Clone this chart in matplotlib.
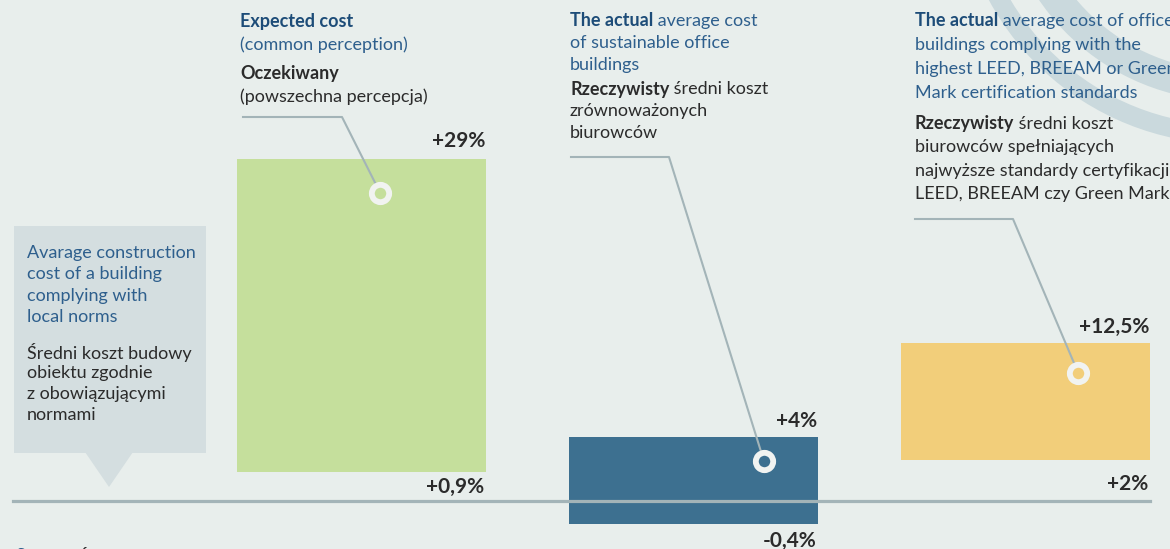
import numpy as np
import matplotlib
matplotlib.use("Agg")
import matplotlib.pyplot as plt
from matplotlib.patches import Rectangle, Polygon, Wedge
from matplotlib.transforms import IdentityTransform

plt.rcParams['font.family'] = ['Lato', 'DejaVu Sans']

# --- data ---
categories = ['Expected cost', 'Actual cost (sustainable)', 'Actual cost (top certified)']
cost_low = [0.9, -0.4, 2.0]
cost_high = [29.0, 4.0, 12.5]
low_labels = ['+0,9%', '-0,4%', '+2%']
high_labels = ['+29%', '+4%', '+12,5%']

# --- style ---
W, H = 1170, 549
BG = '#e8eeec'
BAR_COLORS = ['#c5df9c', '#3d7090', '#f2ce7a']
BLUE_B = '#1d4c78'
BLUE = '#2e5f8d'
DARK = '#2b2b2b'
LINE = '#a3b4b8'
FS = 13

tr = IdentityTransform()


def d(x, y):
    # pixel position measured from the top-left corner -> display coords
    return (x, H - y)


# exaggerated scale so the small values stay visible (schematic chart)
def fwd(v):
    v = np.asarray(v, dtype=float)
    return v + 1.704 * np.tanh(v / 0.15)


_grid = np.linspace(-60, 120, 20001)


def inv(u):
    return np.interp(u, fwd(_grid), _grid)


fig = plt.figure(figsize=(W / 100, H / 100), dpi=100)
fig.patch.set_facecolor(BG)
ax = fig.add_axes([0, 0, 1, 1])
ax.set_facecolor(BG)
ax.set_yscale('function', functions=(fwd, inv))
px_per_unit = 11.15
ax.set_ylim(inv(-48 / px_per_unit), inv(501 / px_per_unit))
ax.set_xlim(-1.089, 2.435)
ax.axis('off')

# watermark arcs top right
for r, w, a1, a2 in [(274, 19, 195, 280), (231, 30, 200, 285)]:
    ax.add_patch(Wedge((1230, H + 130), r, a1, a2, width=w, transform=tr,
                       facecolor='#cad9dd', edgecolor='none', zorder=0.5))

# bars
x = np.arange(len(categories))
heights = np.array(cost_high) - np.array(cost_low)
ax.bar(x, heights, bottom=cost_low, width=0.75, color=BAR_COLORS, zorder=2)
ax.axhline(0, xmin=13 / W, xmax=1150 / W, color=LINE, lw=2.3, zorder=3)

# value labels
top_pad = [8, 6, 6]
bottom_pad = [15, 17, 24]
for i in range(len(categories)):
    xr = x[i] + 0.375
    tx, ty = ax.transData.transform((xr, cost_high[i]))
    fig.text(tx - 1, ty + top_pad[i], high_labels[i], transform=tr, ha='right', va='bottom',
             fontsize=15, fontweight='bold', color=DARK)
    bx, by = ax.transData.transform((xr, cost_low[i]))
    fig.text(bx - 2, by - bottom_pad[i], low_labels[i], transform=tr, ha='right', va='center',
             fontsize=15, fontweight='bold', color=DARK)

# rings + leader lines
ring_dx = [18.5, 70.5, 52.5]
ring_dy = [34, 24, 30]
leaders = [(243, 342, 117), (571, 669, 157), (915, 1013, 219)]
for i in range(len(categories)):
    cx, cy = ax.transData.transform((x[i], cost_high[i]))
    cx, cy = cx + ring_dx[i], cy - ring_dy[i]
    x0, x1, yl = leaders[i]
    xs = [x0, x1, cx]
    ys = [H - yl, H - yl, cy]
    fig.lines.append(plt.Line2D(xs, ys, transform=tr, color=LINE, lw=1.5, zorder=4))
    fig.lines.append(plt.Line2D([cx], [cy], transform=tr, marker='o', ms=12.5, mew=4.2,
                                mfc=BAR_COLORS[i], mec='#f1f3f1', ls='none', zorder=5))


def line(xp, yp, s, color=DARK, bold=False, fs=FS):
    return fig.text(xp, H - yp, s, transform=tr, ha='left', va='center', fontsize=fs,
                    color=color, fontweight='bold' if bold else 'normal', zorder=6)


def two_part(xp, yp, s_bold, s_reg, color_b, color_r, bold=True, fs=FS):
    t = line(xp, yp, s_bold, color_b, bold, fs)
    ax.annotate(s_reg, xy=(1, 0.5), xycoords=t, ha='left', va='center', fontsize=fs,
                color=color_r, zorder=6)


# bar 1 text
line(240, 21, 'Expected cost', BLUE_B, True)
line(240, 45, '(common perception)', BLUE)
line(240, 73, 'Oczekiwany', DARK, True)
line(240, 97, '(powszechna percepcja)', DARK)

# bar 2 text
two_part(570, 21, 'The actual', ' average cost', BLUE_B, BLUE)
line(570, 43, 'of sustainable office', BLUE)
line(570, 65, 'buildings', BLUE)
two_part(570, 89, 'Rzeczywisty', ' średni koszt', DARK, DARK)
line(570, 111, 'zrównoważonych', DARK)
line(570, 133, 'biurowców', DARK)

# bar 3 text
two_part(915, 21, 'The actual', ' average cost of office', BLUE_B, BLUE)
line(915, 45, 'buildings complying with the', BLUE)
line(915, 69, 'highest LEED, BREEAM or Green', BLUE)
line(915, 93, 'Mark certification standards', BLUE)
two_part(915, 124, 'Rzeczywisty', ' średni koszt', DARK, DARK)
line(915, 147, 'biurowców spełniających', DARK)
line(915, 171, 'najwyższe standardy certyfikacji', DARK)
line(915, 194, 'LEED, BREEAM czy Green Mark', DARK)

# left callout box
ax.add_patch(Rectangle(d(14, 453), 192, 227, transform=tr, facecolor='#d4dee0',
                       edgecolor='none', zorder=1))
ax.add_patch(Polygon([d(85, 452), d(133, 452), d(109, 487)], closed=True, transform=tr,
                     facecolor='#d4dee0', edgecolor='none', zorder=1))
for yy, s in zip([253, 274, 296, 317],
                 ['Avarage construction', 'cost of a building', 'complying with', 'local norms']):
    line(27, yy, s, BLUE)
for yy, s in zip([352, 373, 394, 415],
                 ['Średni koszt budowy', 'obiektu zgodnie', 'z obowiązującymi', 'normami']):
    line(27, yy, s, DARK)

# source (cut off at the bottom edge)
two_part(15, 556, 'Source', '/Źródło: The Business Case for Green Buildings', BLUE, DARK, bold=False)

fig.savefig('out.png', dpi=100, facecolor=BG)
